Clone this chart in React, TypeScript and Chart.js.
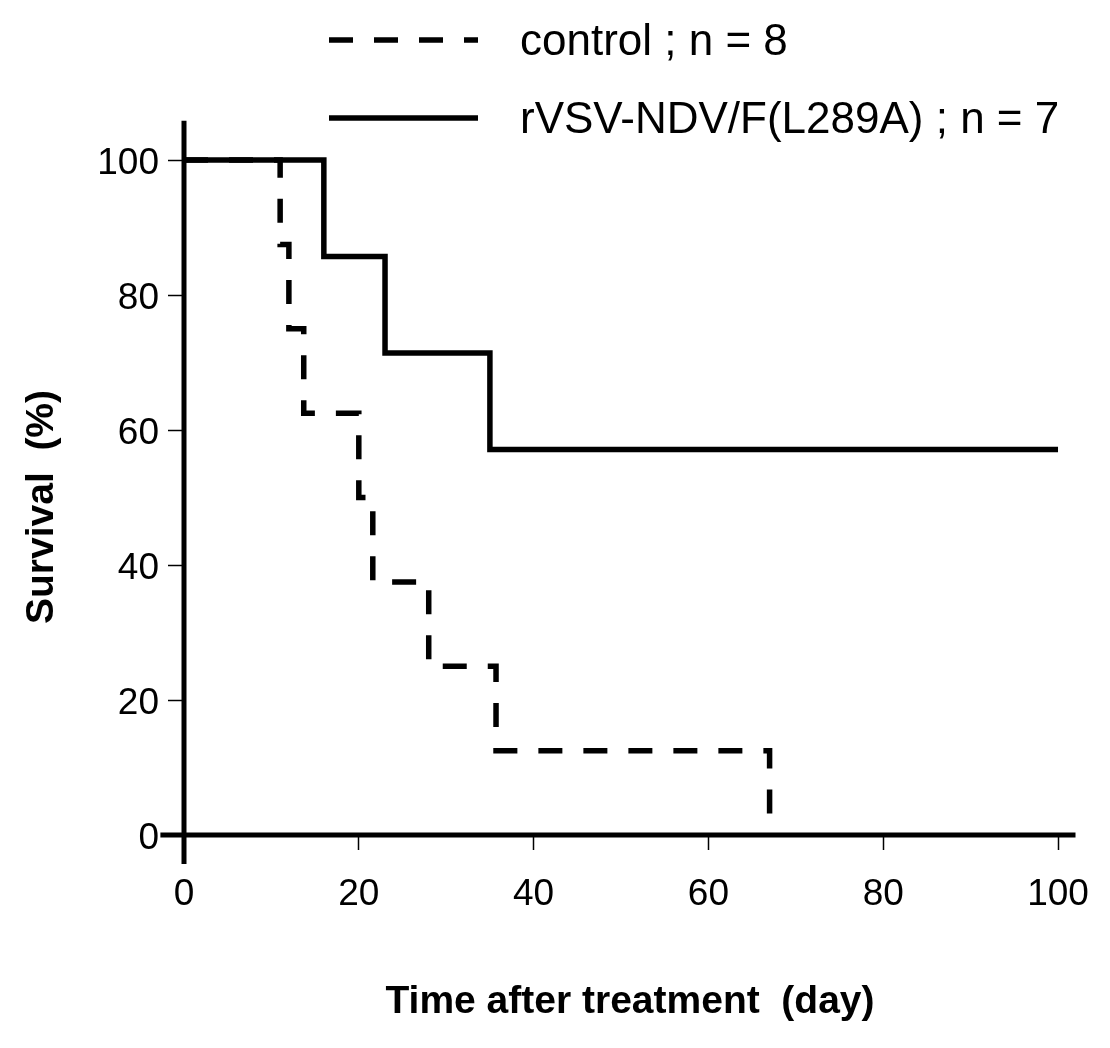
import React, { useEffect, useRef } from "react";
import { Chart, registerables } from "chart.js";

Chart.register(...registerables);

// ---- data ----
const controlDays = [0, 11, 12, 13.7, 20, 21.6, 28, 35.7, 67];
const controlSurvival = [100, 87.5, 75, 62.5, 50, 37.5, 25, 12.5, 0];
const treatedDays = [0, 16, 23, 35, 100];
const treatedSurvival = [100, 85.7, 71.4, 57.1, 57.1];
const xTicks = [0, 20, 40, 60, 80, 100];
const yTicks = [0, 20, 40, 60, 80, 100];
const seriesLabels = ["control ; n = 8", "rVSV-NDV/F(L289A) ; n = 7"];
const xTitle = "Time after treatment  (day)";
const yTitle = "Survival  (%)";

const FONT = "'Liberation Sans', Arial, sans-serif";

const decorPlugin = {
  id: "decor",
  afterDatasetsDraw(chart: any) {
    const { ctx, scales } = chart;
    const x = scales.x;
    const y = scales.y;
    ctx.save();
    // axis lines (extend past the data range like the reference)
    ctx.strokeStyle = "#000";
    ctx.lineWidth = 5;
    ctx.lineCap = "butt";
    ctx.setLineDash([]);
    const x0 = x.getPixelForValue(0);
    const y0 = y.getPixelForValue(0);
    ctx.beginPath();
    ctx.moveTo(x.getPixelForValue(-2.7), y0);
    ctx.lineTo(x.getPixelForValue(102), y0);
    ctx.moveTo(x0, y.getPixelForValue(105.8));
    ctx.lineTo(x0, y.getPixelForValue(-4.3));
    ctx.stroke();

    // legend built from the datasets
    const rows = [40, 118];
    chart.data.datasets.forEach((ds: any, i: number) => {
      const ly = rows[i];
      ctx.strokeStyle = ds.borderColor;
      ctx.lineWidth = ds.borderWidth;
      ctx.setLineDash(ds.borderDash || []);
      ctx.lineDashOffset = 0;
      ctx.beginPath();
      ctx.moveTo(329, ly);
      ctx.lineTo(478, ly);
      ctx.stroke();
      ctx.setLineDash([]);
      ctx.fillStyle = "#000";
      ctx.font = `44px ${FONT}`;
      ctx.textAlign = "left";
      ctx.textBaseline = "middle";
      ctx.fillText(ds.label, 520, ly + 3);
    });

    // axis titles
    ctx.fillStyle = "#000";
    ctx.font = `bold 39px ${FONT}`;
    ctx.textAlign = "center";
    ctx.textBaseline = "alphabetic";
    ctx.fillText(xTitle, 630, 1013);
    ctx.save();
    ctx.translate(53, 507);
    ctx.rotate(-Math.PI / 2);
    ctx.fillText(yTitle, 0, 0);
    ctx.restore();
    ctx.restore();
  },
};

export default function App() {
  const ref = useRef<HTMLCanvasElement | null>(null);

  useEffect(() => {
    document.body.style.margin = "0";
    const canvas = ref.current;
    if (!canvas) return;
    const chart = new Chart(canvas, {
      type: "line",
      data: {
        datasets: [
          {
            label: seriesLabels[0],
            data: controlDays.map((d, i) => ({ x: d, y: controlSurvival[i] })),
            borderColor: "#000",
            borderWidth: 5.5,
            borderDash: [24, 21],
            stepped: true,
            pointRadius: 0,
            fill: false,
            borderJoinStyle: "miter",
            borderCapStyle: "butt",
            clip: false,
          },
          {
            label: seriesLabels[1],
            data: treatedDays.map((d, i) => ({ x: d, y: treatedSurvival[i] })),
            borderColor: "#000",
            borderWidth: 5.5,
            stepped: true,
            pointRadius: 0,
            fill: false,
            borderJoinStyle: "miter",
            borderCapStyle: "butt",
            clip: false,
          },
        ],
      },
      options: {
        animation: false,
        responsive: false,
        events: [],
        layout: { padding: { top: 119.5, right: 34.5, left: 0, bottom: 0 } },
        plugins: {
          legend: { display: false },
          tooltip: { enabled: false },
        },
        scales: {
          x: {
            type: "linear",
            min: 0,
            max: 102,
            afterFit: (s: any) => {
              s.height = 213;
              s.paddingLeft = 0;
              s.paddingRight = 0;
            },
            afterBuildTicks: (s: any) => {
              s.ticks = xTicks.map((v) => ({ value: v }));
            },
            grid: {
              drawOnChartArea: false,
              drawTicks: true,
              tickLength: 15,
              tickWidth: 1.5,
              tickColor: "#000",
            },
            border: { display: false },
            ticks: {
              color: "#000",
              font: { family: FONT, size: 37 },
              padding: 23,
              maxRotation: 0,
            },
          },
          y: {
            type: "linear",
            min: 0,
            max: 106,
            afterFit: (s: any) => {
              s.width = 184;
              s.paddingTop = 0;
              s.paddingBottom = 0;
            },
            afterBuildTicks: (s: any) => {
              s.ticks = yTicks.map((v) => ({ value: v }));
            },
            grid: {
              drawOnChartArea: false,
              drawTicks: true,
              tickLength: 16,
              tickWidth: 1.5,
              tickColor: "#000",
            },
            border: { display: false },
            ticks: {
              color: "#000",
              font: { family: FONT, size: 37 },
              padding: 9,
              labelOffset: 4,
            },
          },
        },
      },
      plugins: [decorPlugin],
    });
    return () => chart.destroy();
  }, []);

  return (
    <div style={{ width: 1110, height: 1048, background: "#fff" }}>
      <canvas ref={ref} width={1110} height={1048} style={{ display: "block" }} />
    </div>
  );
}
